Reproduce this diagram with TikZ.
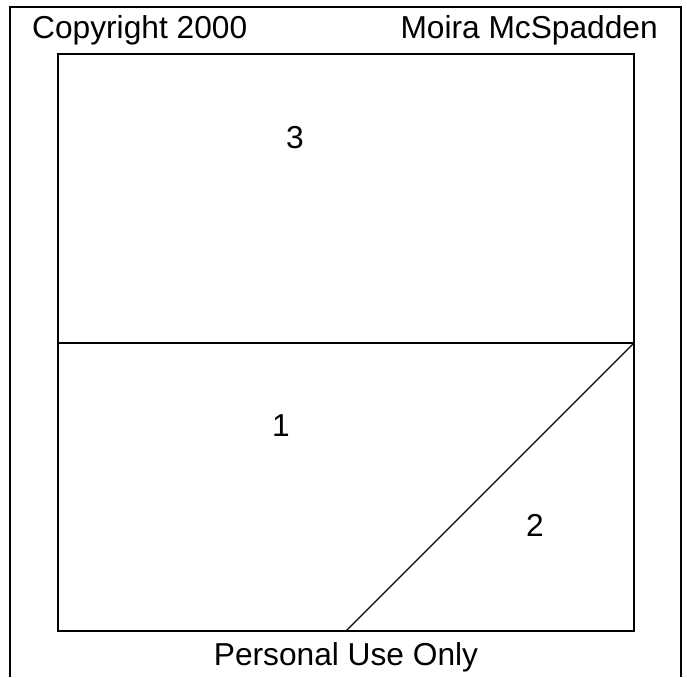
\documentclass[tikz,border=0pt]{standalone}
\usepackage{fontspec}
\setmainfont{Liberation Sans}
\begin{document}
\begin{tikzpicture}[x=1pt, y=-1pt, every node/.style={font=\fontsize{31.7}{36}\selectfont, inner sep=0pt},
  frame/.style={line width=1.1pt, black},
  seam/.style={line width=1.3pt, black}]
  \useasboundingbox (0,0) rectangle (687,677);
  % Outer frame, open at the bottom
  \coordinate (fbl) at (10,677);
  \coordinate (ftl) at (10,7);
  \coordinate (ftr) at (681,7);
  \coordinate (fbr) at (681,677);
  \draw[frame] (fbl) -- (ftl) -- (ftr) -- (fbr);
  % Block
  \coordinate (tl) at (58,54);
  \coordinate (tr) at (634,54);
  \coordinate (ml) at (58,343);
  \coordinate (mr) at (634,343);
  \coordinate (bl) at (58,631);
  \coordinate (br) at (634,631);
  \coordinate (bd) at (346,631);
  \draw[seam] (tl) -- (tr) -- (br) -- (bl) -- cycle;
  \draw[seam] (ml) -- (mr);
  \draw[seam] (mr) -- (bd);
  % Piece numbers
  \node (p3) at (295,138) {3};
  \node (p1) at (281,426) {1};
  \node (p2) at (535,525) {2};
  % Texts
  \node[anchor=base west] (copy) at (32,39) {Copyright 2000};
  \node[anchor=base east] (name) at (658,39) {Moira McSpadden};
  \node[anchor=base] (use) at (346,665) {Personal Use Only};
\end{tikzpicture}
\end{document}
